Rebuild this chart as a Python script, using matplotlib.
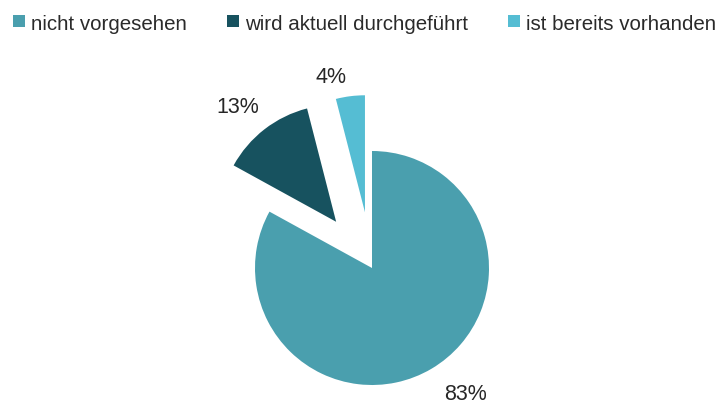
import matplotlib.pyplot as plt
from matplotlib.patches import Rectangle

labels = ["nicht vorgesehen", "wird aktuell durchgeführt", "ist bereits vorhanden"]
values = [83, 13, 4]
colors = ["#4a9fae", "#17525f", "#55bdd3"]
explode = [0, 0.5, 0.48]
# where the percent labels sit (data units, pie radius = 1)
pct_pos = [(0.795, -1.08), (-1.145, 1.375), (-0.35, 1.625)]
# legend entries: left of square, in pixels
legend_x = [13, 227, 508]

plt.rcParams['font.family'] = ['Liberation Sans', 'DejaVu Sans']

W, H = 719, 408
fig = plt.figure(figsize=(W / 100, H / 100), dpi=100)
ax = fig.add_axes([0, 0, 1, 1])
ax.pie(values, colors=colors, explode=explode, startangle=90, counterclock=False,
       radius=1.0)
ax.set_xlim(-372 / 117, (W - 372) / 117)
ax.set_ylim(-140 / 117, 268 / 117)
ax.set_aspect('equal')
ax.axis('off')

for v, (x, y) in zip(values, pct_pos):
    ax.text(x, y, "%d%%" % v, ha='center', va='center', fontsize=15.5, color='#262626')

# legend row on top
for lx, lab, c in zip(legend_x, labels, colors):
    fig.add_artist(Rectangle((lx / W, 1 - 27 / H), 12 / W, 12 / H, facecolor=c,
                             edgecolor='none', transform=fig.transFigure))
    fig.text((lx + 18) / W, 1 - 30 / H, lab, ha='left', va='baseline',
             fontsize=14.8, color='#2a2a2a')

fig.savefig("out.png", dpi=100)
